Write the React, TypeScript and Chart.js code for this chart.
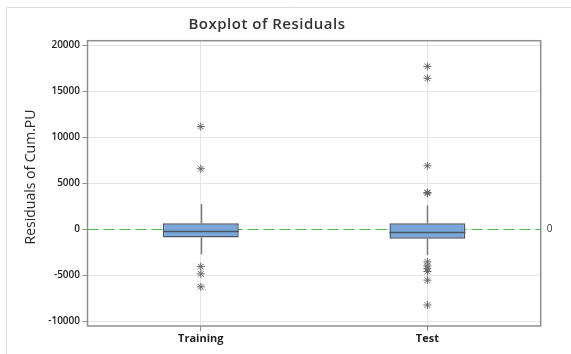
import React, { useEffect, useRef } from "react";
import { Chart, registerables } from "chart.js";

Chart.register(...registerables);

const categories = ["Training", "Test"];
const q1 = [-900, -1050];
const median = [-250, -360];
const q3 = [650, 650];
const whiskerLow = [-2740, -2810];
const whiskerHigh = [2740, 2600];
const trainingOutliers = [11150, 6570, -4080, -4870, -6280];
const testOutliers = [17710, 16410, 6890, 3900, 3990, -3570, -4000, -4300, -4620, -5550, -8260];
const yTicks = [-10000, -5000, 0, 5000, 10000, 15000, 20000];
const referenceValue = 0;
const titleText = "Boxplot of Residuals";
const yTitleText = "Residuals of Cum.PU";

const extrasPlugin = {
  id: "boxExtras",
  beforeDatasetsDraw(chart: any) {
    const { ctx, chartArea, scales } = chart;
    const y = scales.y.getPixelForValue(referenceValue);
    ctx.save();
    ctx.strokeStyle = "#44c844";
    ctx.lineWidth = 1.2;
    ctx.setLineDash([11, 5]);
    ctx.beginPath();
    ctx.moveTo(chartArea.left, Math.round(y) + 0.5);
    ctx.lineTo(chartArea.right, Math.round(y) + 0.5);
    ctx.stroke();
    ctx.setLineDash([]);
    ctx.fillStyle = "#333";
    ctx.font = "10px 'Open Sans'";
    ctx.textAlign = "left";
    ctx.textBaseline = "middle";
    ctx.fillText(String(referenceValue), chartArea.right + 6, y);
    ctx.restore();
  },
  afterDatasetsDraw(chart: any) {
    const { ctx, chartArea, scales } = chart;
    const meta = chart.getDatasetMeta(0);
    ctx.save();
    categories.forEach((_, i) => {
      const el = meta.data[i];
      const x = Math.round(el.x) + 0.5;
      const w = el.width;
      ctx.strokeStyle = "#7a7a7a";
      ctx.lineWidth = 1.5;
      ctx.beginPath();
      ctx.moveTo(x, scales.y.getPixelForValue(q3[i]));
      ctx.lineTo(x, scales.y.getPixelForValue(whiskerHigh[i]));
      ctx.moveTo(x, scales.y.getPixelForValue(q1[i]));
      ctx.lineTo(x, scales.y.getPixelForValue(whiskerLow[i]));
      ctx.stroke();
      ctx.strokeStyle = "#4a5662";
      ctx.lineWidth = 1.5;
      const my = scales.y.getPixelForValue(median[i]);
      ctx.beginPath();
      ctx.moveTo(el.x - w / 2, my);
      ctx.lineTo(el.x + w / 2, my);
      ctx.stroke();
    });
    ctx.strokeStyle = "#8e8e8e";
    ctx.lineWidth = 1.5;
    ctx.strokeRect(chartArea.left, chartArea.top, chartArea.right - chartArea.left, chartArea.bottom - chartArea.top);
    ctx.restore();
  },
  afterDraw(chart: any) {
    const { ctx } = chart;
    ctx.save();
    ctx.strokeStyle = "#dcdcdc";
    ctx.lineWidth = 1;
    ctx.beginPath();
    ctx.moveTo(6.5, 354);
    ctx.lineTo(6.5, 7.5);
    ctx.lineTo(571, 7.5);
    ctx.stroke();
    ctx.fillStyle = "#333";
    ctx.font = "600 15px 'Open Sans'";
    (ctx as any).letterSpacing = "0.5px";
    ctx.textAlign = "center";
    ctx.textBaseline = "middle";
    ctx.fillText(titleText, 267, 25);
    (ctx as any).letterSpacing = "0px";
    ctx.font = "14px 'Open Sans'";
    ctx.fillStyle = "#2a2a2a";
    ctx.translate(31, 177);
    ctx.rotate(-Math.PI / 2);
    ctx.fillText(yTitleText, 0, 0);
    ctx.restore();
  },
};

export default function App() {
  const ref = useRef<HTMLCanvasElement>(null);
  useEffect(() => {
    document.body.style.margin = "0";
    const chart = new Chart(ref.current!, {
      type: "bar",
      data: {
        labels: categories,
        datasets: [
          {
            type: "bar",
            data: categories.map((_, i) => [q1[i], q3[i]]) as any,
            backgroundColor: "#7aa7db",
            borderColor: "#4a5662",
            borderWidth: 1.5,
            borderSkipped: false,
            barPercentage: 0.335,
            categoryPercentage: 1,
          },
          {
            type: "scatter",
            data: [
              ...trainingOutliers.map((v) => ({ x: categories[0], y: v })),
              ...testOutliers.map((v) => ({ x: categories[1], y: v })),
            ] as any,
            pointStyle: "star",
            radius: 4,
            borderColor: "#666",
            backgroundColor: "#666",
            borderWidth: 1,
          } as any,
        ],
      },
      options: {
        animation: false,
        responsive: false,
        layout: { padding: { top: 40.7, right: 30.3, left: 0, bottom: 0 } },
        plugins: { legend: { display: false }, tooltip: { enabled: false }, title: { display: false } },
        scales: {
          x: {
            type: "category",
            offset: true,
            grid: { offset: false, color: "#e6e6e6", tickColor: "#8e8e8e", tickLength: 5 },
            border: { display: false },
            ticks: { color: "#222", font: { family: "'Open Sans'", size: 11, weight: "bold" }, padding: 1 },
            afterFit: (s: any) => { s.height = 28; },
          },
          y: {
            type: "linear",
            min: -10540,
            max: 20500,
            afterBuildTicks: (s: any) => { s.ticks = yTicks.map((v) => ({ value: v })); },
            grid: { color: "#e6e6e6", tickColor: "#8e8e8e", tickLength: 5 },
            border: { display: false },
            ticks: {
              color: "#222",
              padding: 2.5,
              font: { family: "'Open Sans'", size: 10, weight: "600" },
              callback: (v: any) => String(v),
            },
            afterFit: (s: any) => { s.width = 87.5; },
          },
        },
      },
      plugins: [extrasPlugin],
    });
    return () => chart.destroy();
  }, []);
  return (
    <div style={{ width: 571, height: 354 }}>
      <canvas ref={ref} width={571} height={354} />
    </div>
  );
}
